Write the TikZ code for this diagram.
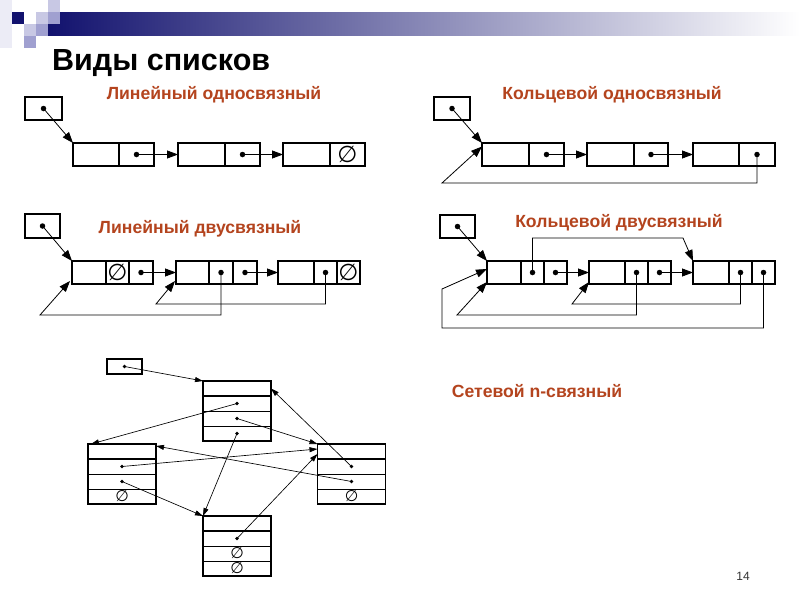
\documentclass[tikz,border=0pt]{standalone}
\usepackage{fontspec}
\setmainfont{Liberation Sans}
\newfontfamily\djv{DejaVu Sans}
\usetikzlibrary{arrows.meta,calc}
\definecolor{navy}{HTML}{12126E}
\definecolor{subc}{HTML}{B4441E}
\definecolor{sqa}{HTML}{ECECF6}
\definecolor{sqb}{HTML}{C8C8E4}
\definecolor{sqc}{HTML}{A0A0D0}
\begin{document}
\begin{tikzpicture}[x=1pt,y=-1pt,
 cell/.style={draw, line width=1.4pt, inner sep=0pt, outer sep=0pt, minimum height=23pt},
 dot/.style={circle, fill, inner sep=0pt, minimum size=5.5pt},
 ndot/.style={circle, fill, inner sep=0pt, minimum size=3.8pt},
 arr/.style={line width=0.8pt, -{Triangle[length=11pt,width=8pt]}},
 narr/.style={line width=0.65pt, -{Triangle[length=8pt,width=5pt]}},
 nul/.style={font=\djv\fontsize{23}{23}\selectfont, inner sep=0pt},
 nnul/.style={font=\djv\fontsize{15.5}{15.5}\selectfont, inner sep=0pt},
 subt/.style={font=\bfseries\fontsize{17.6}{19}\selectfont, text=subc, anchor=base, inner sep=0pt},
 ncell/.style={draw, line width=0.7pt, inner sep=0pt, outer sep=0pt, minimum width=68pt, minimum height=15pt},
 nbox/.style={line width=1.5pt},
]
\useasboundingbox (0,0) rectangle (800,600);
\fill[white] (0,0) rectangle (800,600);
% header decoration
\shade[left color=navy, right color=white] (48,12) rectangle (800,35);
\fill[sqa] (0,0) rectangle (12,48);
\fill[navy] (12,12) rectangle (24,24);
\fill[sqb] (48,0) rectangle (60,12);
\fill[sqb] (36,12) rectangle (48,24);
\fill[sqc] (48,12) rectangle (60,24);
\fill[sqb] (24,24) rectangle (36,36);
\fill[sqc] (36,24) rectangle (48,36);
\fill[sqc] (24,36) rectangle (36,48);
\node[anchor=base west, inner sep=0pt, font=\bfseries\fontsize{30.5}{32}\selectfont] (title) at (52,70) {Виды списков};

% ---------- Linear singly linked ----------
\node[subt] (t1) at (214,99.5) {Линейный односвязный};
\node[cell, minimum width=37pt] (ah) at (43.5,108.5) {};
\node[dot] (ahp) at (ah.center) {};
\node[cell, minimum width=46pt] (a1d) at (96,154.5) {};
\node[cell, minimum width=35pt] (a1n) at (136.5,154.5) {};
\node[cell, minimum width=47pt] (a2d) at (201.5,154.5) {};
\node[cell, minimum width=35pt] (a2n) at (242.5,154.5) {};
\node[cell, minimum width=47pt] (a3d) at (306.5,154.5) {};
\node[cell, minimum width=35pt] (a3n) at (347.5,154.5) {};
\node[dot] (a1p) at (a1n.center) {};
\node[dot] (a2p) at (a2n.center) {};
\node[nul] (a3z) at (a3n.center) {∅};
\draw[arr] (ahp.center) -- (a1d.north west);
\draw[arr] (a1p.center) -- (a2d.west);
\draw[arr] (a2p.center) -- (a3d.west);

% ---------- Ring singly linked ----------
\node[subt] (t2) at (612,99.3) {Кольцевой односвязный};
\node[cell, minimum width=36pt] (bh) at (452,108.5) {};
\node[dot] (bhp) at (bh.center) {};
\node[cell, minimum width=47pt] (b1d) at (505.5,154.5) {};
\node[cell, minimum width=35pt] (b1n) at (546.5,154.5) {};
\node[cell, minimum width=47pt] (b2d) at (610.5,154.5) {};
\node[cell, minimum width=34pt] (b2n) at (651,154.5) {};
\node[cell, minimum width=46pt] (b3d) at (716,154.5) {};
\node[cell, minimum width=36pt] (b3n) at (757,154.5) {};
\node[dot] (b1p) at (b1n.center) {};
\node[dot] (b2p) at (b2n.center) {};
\node[dot] (b3p) at (b3n.center) {};
\coordinate (bk) at (442,183);
\coordinate (bt) at (482,146.5);
\draw[arr] (bhp.center) -- (b1d.north west);
\draw[arr] (b1p.center) -- (b2d.west);
\draw[arr] (b2p.center) -- (b3d.west);
\draw[arr] (b3p.center) |- (bk) -- (bt);

% ---------- Linear doubly linked ----------
\node[subt] (t3) at (200,233) {Линейный двусвязный};
\node[cell, minimum width=35pt, minimum height=24pt] (ch) at (42.5,226) {};
\node[dot] (chp) at (ch.center) {};
\node[cell, minimum width=34pt] (c1d) at (89,272.5) {};
\node[cell, minimum width=23pt] (c1b) at (117.5,272.5) {};
\node[cell, minimum width=24pt] (c1n) at (141,272.5) {};
\node[cell, minimum width=33pt] (c2d) at (192.5,272.5) {};
\node[cell, minimum width=24pt] (c2b) at (221,272.5) {};
\node[cell, minimum width=24pt] (c2n) at (245,272.5) {};
\node[cell, minimum width=36pt] (c3d) at (296,272.5) {};
\node[cell, minimum width=23pt] (c3b) at (325.5,272.5) {};
\node[cell, minimum width=23pt] (c3n) at (348.5,272.5) {};
\node[nul] (c1z) at (c1b.center) {∅};
\node[dot] (c1p) at (c1n.center) {};
\node[dot] (c2q) at (c2b.center) {};
\node[dot] (c2p) at (c2n.center) {};
\node[dot] (c3q) at (c3b.center) {};
\node[nul] (c3z) at (c3n.center) {∅};
\coordinate (ck1) at (40,315);
\coordinate (ct1) at (70,281);
\coordinate (ck2) at (156,304);
\coordinate (ct2) at (175,281);
\draw[arr] (chp.center) -- (c1d.north west);
\draw[arr] (c1p.center) -- (c2d.west);
\draw[arr] (c2p.center) -- (c3d.west);
\draw[arr] (c2q.center) |- (ck1) -- (ct1);
\draw[arr] (c3q.center) |- (ck2) -- (ct2);

% ---------- Ring doubly linked ----------
\node[subt] (t4) at (619,227) {Кольцевой двусвязный};
\node[cell, minimum width=35pt, minimum height=23pt] (dh) at (457.5,226.5) {};
\node[dot] (dhp) at (dh.center) {};
\node[cell, minimum width=34pt] (d1d) at (504,272.5) {};
\node[cell, minimum width=23pt] (d1b) at (532.5,272.5) {};
\node[cell, minimum width=23pt] (d1n) at (555.5,272.5) {};
\node[cell, minimum width=36pt] (d2d) at (607,272.5) {};
\node[cell, minimum width=23pt] (d2b) at (636.5,272.5) {};
\node[cell, minimum width=23pt] (d2n) at (659.5,272.5) {};
\node[cell, minimum width=36pt] (d3d) at (711,272.5) {};
\node[cell, minimum width=23pt] (d3b) at (740.5,272.5) {};
\node[cell, minimum width=23pt] (d3n) at (763.5,272.5) {};
\node[dot] (d1q) at (d1b.center) {};
\node[dot] (d1p) at (d1n.center) {};
\node[dot] (d2q) at (d2b.center) {};
\node[dot] (d2p) at (d2n.center) {};
\node[dot] (d3q) at (d3b.center) {};
\node[dot] (d3p) at (d3n.center) {};
\coordinate (du1) at (683,238);
\coordinate (dk1) at (442,328);
\coordinate (dk1b) at (442,289);
\coordinate (dt1) at (487,269);
\coordinate (dk2) at (457,315);
\coordinate (dt2) at (487,282);
\coordinate (dk3) at (572,304);
\coordinate (dt3) at (589,282);
\draw[arr] (dhp.center) -- (d1d.north west);
\draw[arr] (d1p.center) -- (d2d.west);
\draw[arr] (d2p.center) -- (d3d.west);
\draw[arr] (d1q.center) |- (du1) -- (d3d.north west);
\draw[arr] (d3p.center) |- (dk1) -- (dk1b) -- (dt1);
\draw[arr] (d2q.center) |- (dk2) -- (dt2);
\draw[arr] (d3q.center) |- (dk3) -- (dt3);

% ---------- Network ----------
\node[subt] (t5) at (537,397) {Сетевой n-связный};
\node[ncell, minimum width=35pt, line width=1.2pt] (nh) at (124.5,366.5) {};
\node[ndot] (nhp) at (nh.center) {};
% box A
\node[ncell] (A0) at (237,388.5) {};
\node[ncell] (A1) at (237,403.5) {};
\node[ncell] (A2) at (237,418.5) {};
\node[ncell] (A3) at (237,433.5) {};
% box B
\node[ncell] (B0) at (122,451.5) {};
\node[ncell] (B1) at (122,466.5) {};
\node[ncell] (B2) at (122,481.5) {};
\node[ncell] (B3) at (122,496.5) {};
% box C
\node[ncell] (C0) at (351.5,451.5) {};
\node[ncell] (C1) at (351.5,466.5) {};
\node[ncell] (C2) at (351.5,481.5) {};
\node[ncell] (C3) at (351.5,496.5) {};
% box D
\node[ncell] (D0) at (237,523.5) {};
\node[ncell] (D1) at (237,538.5) {};
\node[ncell] (D2) at (237,553.5) {};
\node[ncell] (D3) at (237,568.5) {};
\foreach \b in {A,B,C,D}{
  \draw[nbox] (\b0.north west) rectangle (\b3.south east);
  \draw[nbox] (\b0.south west) -- (\b0.south east);
}
\node[ndot] (A1p) at (A1.center) {};
\node[ndot] (A2p) at (A2.center) {};
\node[ndot] (A3p) at (A3.center) {};
\node[ndot] (B1p) at (B1.center) {};
\node[ndot] (B2p) at (B2.center) {};
\node[nnul] (B3z) at (B3.center) {∅};
\node[ndot] (C1p) at (C1.center) {};
\node[ndot] (C2p) at (C2.center) {};
\node[nnul] (C3z) at (C3.center) {∅};
\node[ndot] (D1p) at (D1.center) {};
\node[nnul] (D2z) at (D2.center) {∅};
\node[nnul] (D3z) at (D3.center) {∅};
\draw[narr] (nhp.center) -- (A0.north west);
\draw[narr] (A1p.center) -- ($(B0.north west)+(3,0)$);
\draw[narr] (A2p.center) -- (C0.north west);
\draw[narr] (A3p.center) -- (D0.north west);
\draw[narr] (B1p.center) -- ($(C0.north west)+(0,5)$);
\draw[narr] (B2p.center) -- (D0.north west);
\draw[narr] (C1p.center) -- (A0.east);
\draw[narr] (C2p.center) -- ($(B0.north east)+(0,2)$);
\draw[narr] (D1p.center) -- ($(C0.north west)+(0,10)$);

% page number
\node[font=\fontsize{12}{12}\selectfont, text=black!80, inner sep=0pt] (pg) at (743,576) {14};
\end{tikzpicture}
\end{document}
